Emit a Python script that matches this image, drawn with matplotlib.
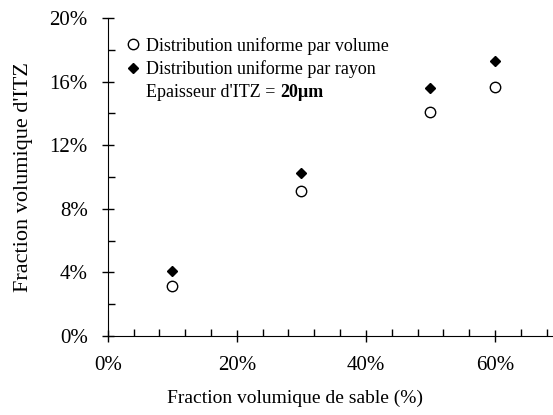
from matplotlib import pyplot as plt
from matplotlib.ticker import MultipleLocator, PercentFormatter

# sand volume fraction and ITZ volume fraction
sable = [0.10, 0.30, 0.50, 0.60]
itz_volume = [0.0314, 0.0914, 0.1407, 0.1567]
itz_rayon = [0.0409, 0.1027, 0.1560, 0.1730]

plt.rcParams['font.family'] = ['Liberation Serif', 'DejaVu Serif']

fig = plt.figure(figsize=(5.53, 4.15), dpi=100)
ax = fig.add_axes([0.195, 0.19, 0.805, 0.767])

l1, = ax.plot(sable, itz_volume, 'o', mfc='white', mec='black', mew=1.0, ms=7.5, ls='none')
l2, = ax.plot(sable, itz_rayon, 'D', color='black', ms=5, ls='none')

ax.set_xlim(0, 0.69)
ax.set_ylim(0, 0.20)
ax.xaxis.set_major_locator(MultipleLocator(0.20))
ax.xaxis.set_minor_locator(MultipleLocator(0.04))
ax.yaxis.set_major_locator(MultipleLocator(0.04))
ax.yaxis.set_minor_locator(MultipleLocator(0.02))
ax.xaxis.set_major_formatter(PercentFormatter(1.0, decimals=0))
ax.yaxis.set_major_formatter(PercentFormatter(1.0, decimals=0))

ax.spines['top'].set_visible(False)
ax.spines['right'].set_visible(False)
ax.tick_params(which='major', direction='inout', length=9, width=1, labelsize=15, pad=10)
ax.tick_params(which='minor', direction='in', length=5, width=1)

ax.set_xlabel('Fraction volumique de sable (%)', fontsize=14)
ax.xaxis.set_label_coords(0.42, -0.168)
ax.set_ylabel("Fraction volumique d'ITZ", fontsize=16, labelpad=12)

leg = ax.legend([l1, l2], ['Distribution uniforme par volume', 'Distribution uniforme par rayon'],
                loc='upper left', bbox_to_anchor=(0.017, 0.98), frameon=False,
                fontsize=13, handlelength=0.6, handletextpad=0.4, borderpad=0.2,
                labelspacing=0.3)

t1 = ax.text(0.086, 0.75, "Epaisseur d'ITZ = ", transform=ax.transAxes, fontsize=13, va='baseline')
fig.canvas.draw()
bb = t1.get_window_extent().transformed(ax.transAxes.inverted())
ax.text(bb.x1, 0.75, '20µm', transform=ax.transAxes, fontsize=13, fontweight='bold', va='baseline')

fig.savefig('out.png', dpi=100)
